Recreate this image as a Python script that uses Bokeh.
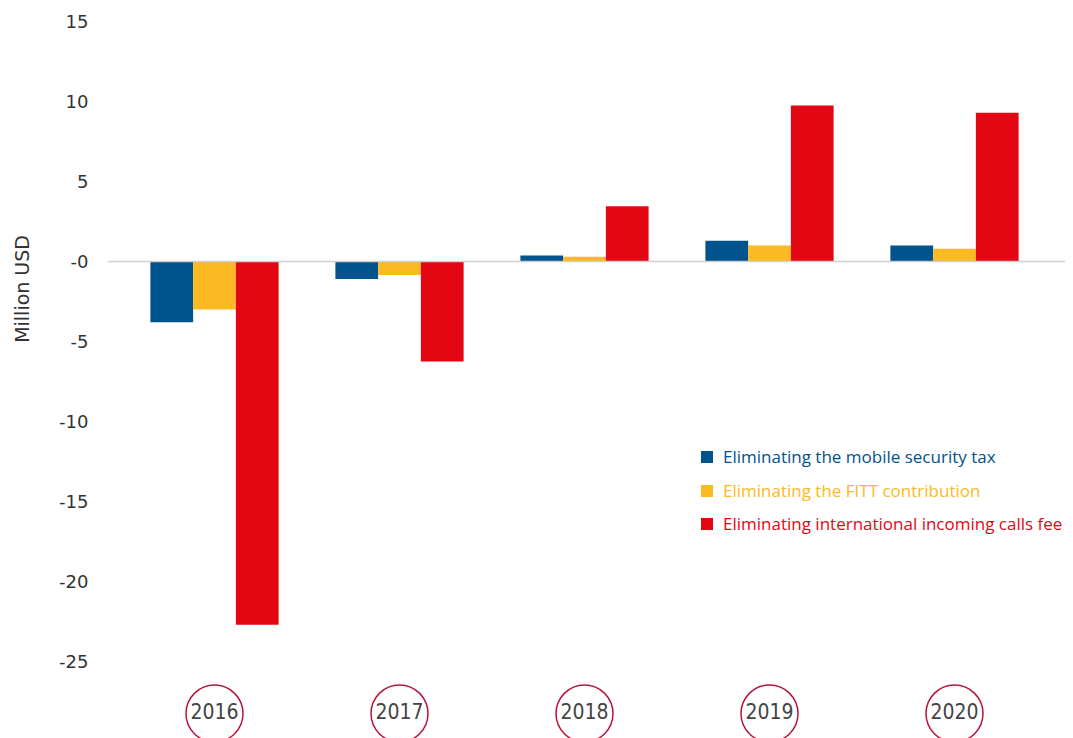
from bokeh.plotting import figure
from bokeh.models import ColumnDataSource, Span, Legend, LegendItem, LinearAxis, FixedTicker
from bokeh.transform import dodge
from bokeh.core.properties import value
from bokeh.embed import file_html
from bokeh.resources import INLINE

years = [2016, 2017, 2018, 2019, 2020]
year_labels = ["2016", "2017", "2018", "2019", "2020"]
mobile_tax = [-3.8, -1.1, 0.38, 1.3, 1.0]
fitt = [-3.0, -0.85, 0.3, 1.0, 0.8]
intl_calls = [-22.7, -6.25, 3.45, 9.75, 9.3]
series_names = ["Eliminating the mobile security tax",
                "Eliminating the FITT contribution",
                "Eliminating international incoming calls fee"]
colors = ["#00538c", "#fbba22", "#e30613"]
y_ticks = [15, 10, 5, 0, -5, -10, -15, -20, -25]
y_tick_labels = ["15", "10", "5", "-0", "-5", "-10", "-15", "-20", "-25"]
y_title = "Million USD"

src = ColumnDataSource(dict(x=years, a=mobile_tax, b=fitt, c=intl_calls,
                            lab=year_labels, ly=[-28.25] * len(years)))

p = figure(width=1065, height=738, output_backend="svg", toolbar_location=None,
           x_range=(2015.4216, 2015.4216 + 958 / 185), y_range=(-29.81, 15.81),
           min_border_left=107, min_border_right=0, min_border_top=8, min_border_bottom=0)
p.outline_line_color = None
p.xgrid.visible = False
p.ygrid.visible = False
p.xaxis.visible = False

bw = 0.231
r1 = p.vbar(x=dodge("x", -bw, range=p.x_range), top="a", width=bw, source=src,
            fill_color=colors[0], line_color=None)
r2 = p.vbar(x=dodge("x", 0, range=p.x_range), top="b", width=bw, source=src,
            fill_color=colors[1], line_color=None)
r3 = p.vbar(x=dodge("x", bw, range=p.x_range), top="c", width=bw, source=src,
            fill_color=colors[2], line_color=None)

p.add_layout(Span(location=0, dimension="width", line_color="#cfcfcf", line_width=1.5))

ax = p.yaxis[0]
ax.ticker = FixedTicker(ticks=y_ticks)
ax.major_label_overrides = dict(zip(y_ticks, y_tick_labels))
ax.axis_line_color = None
ax.major_tick_line_color = None
ax.minor_tick_line_color = None
ax.major_label_text_font = "DejaVu Sans"
ax.major_label_text_font_size = "18px"
ax.major_label_text_color = "#333333"
ax.major_label_standoff = 13

# axis title on an extra label-only axis; leading no-break spaces lift it above the frame centre
ax2 = LinearAxis(ticker=FixedTicker(ticks=[]),
                 axis_line_color=None, major_tick_out=0, minor_tick_out=0,
                 major_tick_line_color=None, minor_tick_line_color=None,
                 axis_label="\u00a0" * 28 + y_title, axis_label_standoff=24,
                 axis_label_text_font="DejaVu Sans", axis_label_text_font_style="normal",
                 axis_label_text_font_size="19px", axis_label_text_color="#333333")
p.add_layout(ax2, "left")

# year labels in circles
p.scatter(x="x", y="ly", source=src, marker="circle", size=57, fill_color=None,
          line_color="#b3173b", line_width=1.5)
p.text(x="x", y="ly", text="lab", source=src, text_align="center", text_baseline="middle",
       y_offset=-3, text_font=value("DejaVu Sans Condensed"), text_font_size="21px",
       text_color="#444444")

tops = [270, 236, 203]
for r, name, col, t in zip([r1, r2, r3], series_names, colors, tops):
    lg = Legend(items=[LegendItem(label=name, renderers=[r])], location=(592, t),
                padding=0, margin=0, spacing=0, glyph_width=15, glyph_height=15,
                label_standoff=9, label_text_font="Open Sans", label_text_font_size="17px",
                label_text_color=col, border_line_color=None, background_fill_alpha=0)
    p.add_layout(lg, "center")

open("out.html", "w").write(file_html(p, INLINE))
